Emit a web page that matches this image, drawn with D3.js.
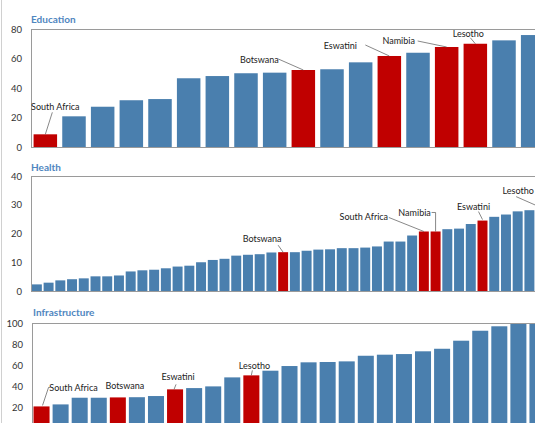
<!DOCTYPE html>
<html>
<head>
<meta charset="utf-8">
<script src="https://cdn.jsdelivr.net/npm/d3@7"></script>
<style>
  body { margin: 0; overflow: hidden; background: #fff; }
  svg { display: block; font-family: Lato, "Open Sans", sans-serif; }
  .tick text { fill: #333; font-size: 9.5px; }
  .title { fill: #4f86c0; font-weight: bold; font-size: 10px; }
  .note { fill: #222; font-size: 9px; }
</style>
</head>
<body>
<div id="chart"></div>
<script>
// Data
const eduValues = [8.6, 20.8, 27.3, 31.7, 32.5, 46.6, 48.1, 50, 50.4, 52.2, 52.7, 57.4, 61.7, 63.9, 67.8, 70, 72.3, 75.9]
const eduNames = ['South Africa', '', '', '', '', '', '', '', '', 'Botswana', '', '', 'Eswatini', '', 'Namibia', 'Lesotho', '', '']

const healthValues = [2.3, 2.9, 3.7, 4.1, 4.4, 5.1, 5.1, 5.4, 6.8, 7.2, 7.4, 7.9, 8.5, 8.8, 10, 10.8, 11.2, 12.3, 12.6, 12.8, 13.4,
  13.5, 13.5, 14, 14.4, 14.5, 14.9, 14.9, 15.1, 15.5, 17.2, 17.2, 19.3, 20.7, 20.7, 21.5, 21.7, 23.3, 24.5, 25.8, 26.6, 27.7, 28.1, 29]
const healthNames = healthValues.map(() => '')
healthNames[21] = 'Botswana'
healthNames[33] = 'South Africa'
healthNames[34] = 'Namibia'
healthNames[38] = 'Eswatini'
healthNames[43] = 'Lesotho'

const infraValues = [21.3, 23.2, 29.5, 29.5, 29.8, 30, 31.1, 37.4, 38.6, 40.2, 48.7, 50.6, 55, 59.4, 62.9, 63.2, 63.8,
  69.1, 70.1, 70.7, 73.3, 75.7, 83.3, 92.7, 96.9, 99.3, 100]
const infraNames = infraValues.map(() => '')
infraNames[0] = 'South Africa'
infraNames[4] = 'Botswana'
infraNames[7] = 'Eswatini'
infraNames[11] = 'Lesotho'

const eduTicks = [0, 20, 40, 60, 80]
const healthTicks = [0, 10, 20, 30, 40]
const infraTicks = [20, 40, 60, 80, 100]   // 0 falls below the page

// Constants
const BLUE = '#4a7fae'
const RED = '#c00000'
const width = 560
const height = 423

// Label placement relative to the top centre of its bar: text offset and leader points
const labelLayout = {
  Education: {
    'South Africa': { dx: 10, dy: -24, lead: [[7, -22], [0, 0]] },
    'Botswana': { dx: -44, dy: -7, lead: [[-25, -11], [0, 0]] },
    'Eswatini': { dx: -49, dy: -7, lead: [[-24, -11], [0, 0]] },
    'Namibia': { dx: -48, dy: -3, lead: [[-29, -6], [0, 0]] },
    'Lesotho': { dx: -7, dy: -7, lead: [[-5, -6], [0, 0]] }
  },
  Health: {
    'Botswana': { dx: -21, dy: -10, lead: [[-5, -7], [0, 0]] },
    'South Africa': { dx: -60, dy: -11, lead: [[-35, -14], [0, 0]] },
    'Namibia': { dx: -21, dy: -15, lead: [[-4, -19], [0, -19], [0, 0]] },
    'Eswatini': { dx: -9, dy: -11, lead: [[-4, -9], [0, -1]] },
    'Lesotho': { dx: -23, dy: -14, lead: [[-25, -11], [0, 0]] }
  },
  Infrastructure: {
    'South Africa': { dx: 32, dy: -15, lead: [[9, -19], [7, -19], [1, -1]] },
    'Botswana': { dx: 7, dy: -8, lead: null },
    'Eswatini': { dx: 3, dy: -9, lead: [[1, -5], [-1, 0]] },
    'Lesotho': { dx: 3, dy: -6, lead: [[1, -5], [0, 0]] }
  }
}

const panels = [
  { title: 'Education', values: eduValues, names: eduNames, ticks: eduTicks, max: 80,
    top: 29, bottom: 147, left: 31, pad: 0.18, titleX: 31, titleY: 23 },
  { title: 'Health', values: healthValues, names: healthNames, ticks: healthTicks, max: 40,
    top: 176, bottom: 291, left: 31, pad: 0.15, titleX: 31, titleY: 171 },
  { title: 'Infrastructure', values: infraValues, names: infraNames, ticks: infraTicks, max: 100,
    top: 323, bottom: 429, left: 32, pad: 0.16, titleX: 33, titleY: 316 }
]
const right = 547

const svg = d3.select('#chart').append('svg')
  .attr('width', width)
  .attr('height', height)

// Thin page border on the left
svg.append('line')
  .attr('x1', 1.5).attr('x2', 1.5)
  .attr('y1', 0).attr('y2', height)
  .attr('stroke', '#d0d0d0')

panels.forEach(p => {
  const x = d3.scaleBand()
    .domain(d3.range(p.values.length))
    .range([p.left, right])
    .paddingInner(p.pad)
    .paddingOuter(p.pad / 2)
  const y = d3.scaleLinear()
    .domain([0, p.max])
    .range([p.bottom, p.top])

  const g = svg.append('g')

  // Title
  g.append('text')
    .attr('class', 'title')
    .attr('x', p.titleX)
    .attr('y', p.titleY)
    .text(p.title)

  // Axis (labels only)
  const axis = g.append('g')
    .attr('transform', `translate(${p.left},0)`)
    .call(d3.axisLeft(y).tickValues(p.ticks).tickSize(0).tickPadding(9))
  axis.select('.domain').remove()
  axis.selectAll('.tick text').attr('font-family', null).attr('font-size', null)
  axis.attr('font-family', null).attr('font-size', null)

  // Bars
  g.selectAll('rect.bar')
    .data(p.values)
    .enter()
    .append('rect')
    .attr('class', 'bar')
    .attr('x', (_, i) => x(i))
    .attr('y', d => y(d))
    .attr('width', x.bandwidth())
    .attr('height', d => y(0) - y(d))
    .attr('fill', (_, i) => p.names[i] ? RED : BLUE)

  // Frame
  g.append('rect')
    .attr('x', p.left + 0.5)
    .attr('y', p.top + 0.5)
    .attr('width', right - p.left)
    .attr('height', p.bottom - p.top)
    .attr('fill', 'none')
    .attr('stroke', '#9a9a9a')

  // Country labels
  const layout = labelLayout[p.title]
  p.names.forEach((name, i) => {
    if (!name) return
    const cx = x(i) + x.bandwidth() / 2
    const cy = y(p.values[i])
    const l = layout[name]
    g.append('text')
      .attr('class', 'note')
      .attr('x', cx + l.dx)
      .attr('y', cy + l.dy)
      .attr('text-anchor', 'middle')
      .text(name)
    if (l.lead) {
      g.append('path')
        .attr('d', d3.line()(l.lead.map(pt => [cx + pt[0], cy + pt[1]])))
        .attr('fill', 'none')
        .attr('stroke', '#555')
        .attr('stroke-width', 0.7)
    }
  })
})
</script>
</body>
</html>
